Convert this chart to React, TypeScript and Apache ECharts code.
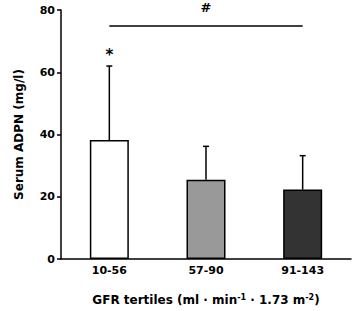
import React, { useEffect, useRef } from "react";
import * as echarts from "echarts";

const categories = ["10-56", "57-90", "91-143"];
const means = [38.2, 25.5, 22.3];
const errorTops = [62, 36.2, 33.2];
const barColors = ["#ffffff", "#999999", "#333333"];
const yTicks = { min: 0, max: 80, interval: 20 };
const sigLevel = 75;
const starLevel = 65.5;

const FONT = "DejaVu Sans";

export default function App() {
  const ref = useRef<HTMLDivElement>(null);
  useEffect(() => {
    const chart = echarts.init(ref.current!, null, { renderer: "svg" });
    chart.setOption({
      animation: false,
      grid: { left: 61, right: 1, top: 10, bottom: 45, containLabel: false },
      xAxis: {
        type: "category",
        data: categories,
        axisLine: { lineStyle: { color: "#000", width: 1.5 } },
        axisTick: { show: false },
        axisLabel: { color: "#000", fontFamily: FONT, fontWeight: "bold", fontSize: 11, margin: 6 },
        name: "GFR tertiles (ml · min{sup|-1} · 1.73 m{sup|-2})",
        nameLocation: "middle",
        nameGap: 34,
        nameTextStyle: {
          color: "#000",
          fontFamily: FONT,
          fontWeight: "bold",
          fontSize: 12,
          rich: {
            sup: { fontFamily: FONT, fontWeight: "bold", fontSize: 8, verticalAlign: "top", padding: [0, 0, 6, 0], color: "#000" },
          },
        },
      },
      yAxis: {
        type: "value",
        min: yTicks.min,
        max: yTicks.max,
        interval: yTicks.interval,
        splitLine: { show: false },
        axisLine: { show: true, lineStyle: { color: "#000", width: 1.5 } },
        axisTick: { show: true, length: 4, lineStyle: { color: "#000", width: 1.5 } },
        axisLabel: { color: "#000", fontFamily: FONT, fontWeight: "bold", fontSize: 11, margin: 6 },
        name: "Serum ADPN (mg/l)",
        nameLocation: "middle",
        nameGap: 36,
        nameTextStyle: { color: "#000", fontFamily: FONT, fontWeight: "bold", fontSize: 12 },
      },
      series: [
        {
          type: "bar",
          barWidth: 39,
          data: means.map((v, i) => ({
            value: v,
            itemStyle: { color: barColors[i], borderColor: "#000", borderWidth: 1.5 },
          })),
          markLine: {
            silent: true,
            symbol: "none",
            lineStyle: { color: "#000", width: 1.5, type: "solid" },
            label: {
              show: true,
              position: "middle",
              formatter: "#",
              color: "#000",
              fontFamily: FONT,
              fontWeight: "bold",
              fontSize: 13,
              distance: 12,
            },
            data: [[{ coord: [0, sigLevel] }, { coord: [2, sigLevel] }]],
          },
          markPoint: {
            silent: true,
            symbol: "circle",
            symbolSize: 1,
            itemStyle: { color: "rgba(0,0,0,0)" },
            label: {
              show: true,
              position: "inside",
              formatter: "*",
              color: "#000",
              fontFamily: FONT,
              fontWeight: "bold",
              fontSize: 15,
            },
            data: [{ coord: [0, starLevel] }],
          },
        },
        {
          type: "custom",
          silent: true,
          data: means.map((m, i) => [i, m, errorTops[i]]),
          renderItem: (params: any, api: any) => {
            const x = api.value(0);
            const base = api.coord([x, api.value(1)]);
            const top = api.coord([x, api.value(2)]);
            const cap = 3;
            const style = { stroke: "#000", lineWidth: 1.5 };
            return {
              type: "group",
              children: [
                { type: "line", shape: { x1: base[0], y1: base[1], x2: top[0], y2: top[1] }, style },
                { type: "line", shape: { x1: top[0] - cap, y1: top[1], x2: top[0] + cap, y2: top[1] }, style },
              ],
            };
          },
          z: 1,
        },
      ],
    });
    return () => chart.dispose();
  }, []);
  return <div ref={ref} style={{ width: 352, height: 311, position: "absolute", left: 0, top: 0, background: "#fff" }} />;
}
